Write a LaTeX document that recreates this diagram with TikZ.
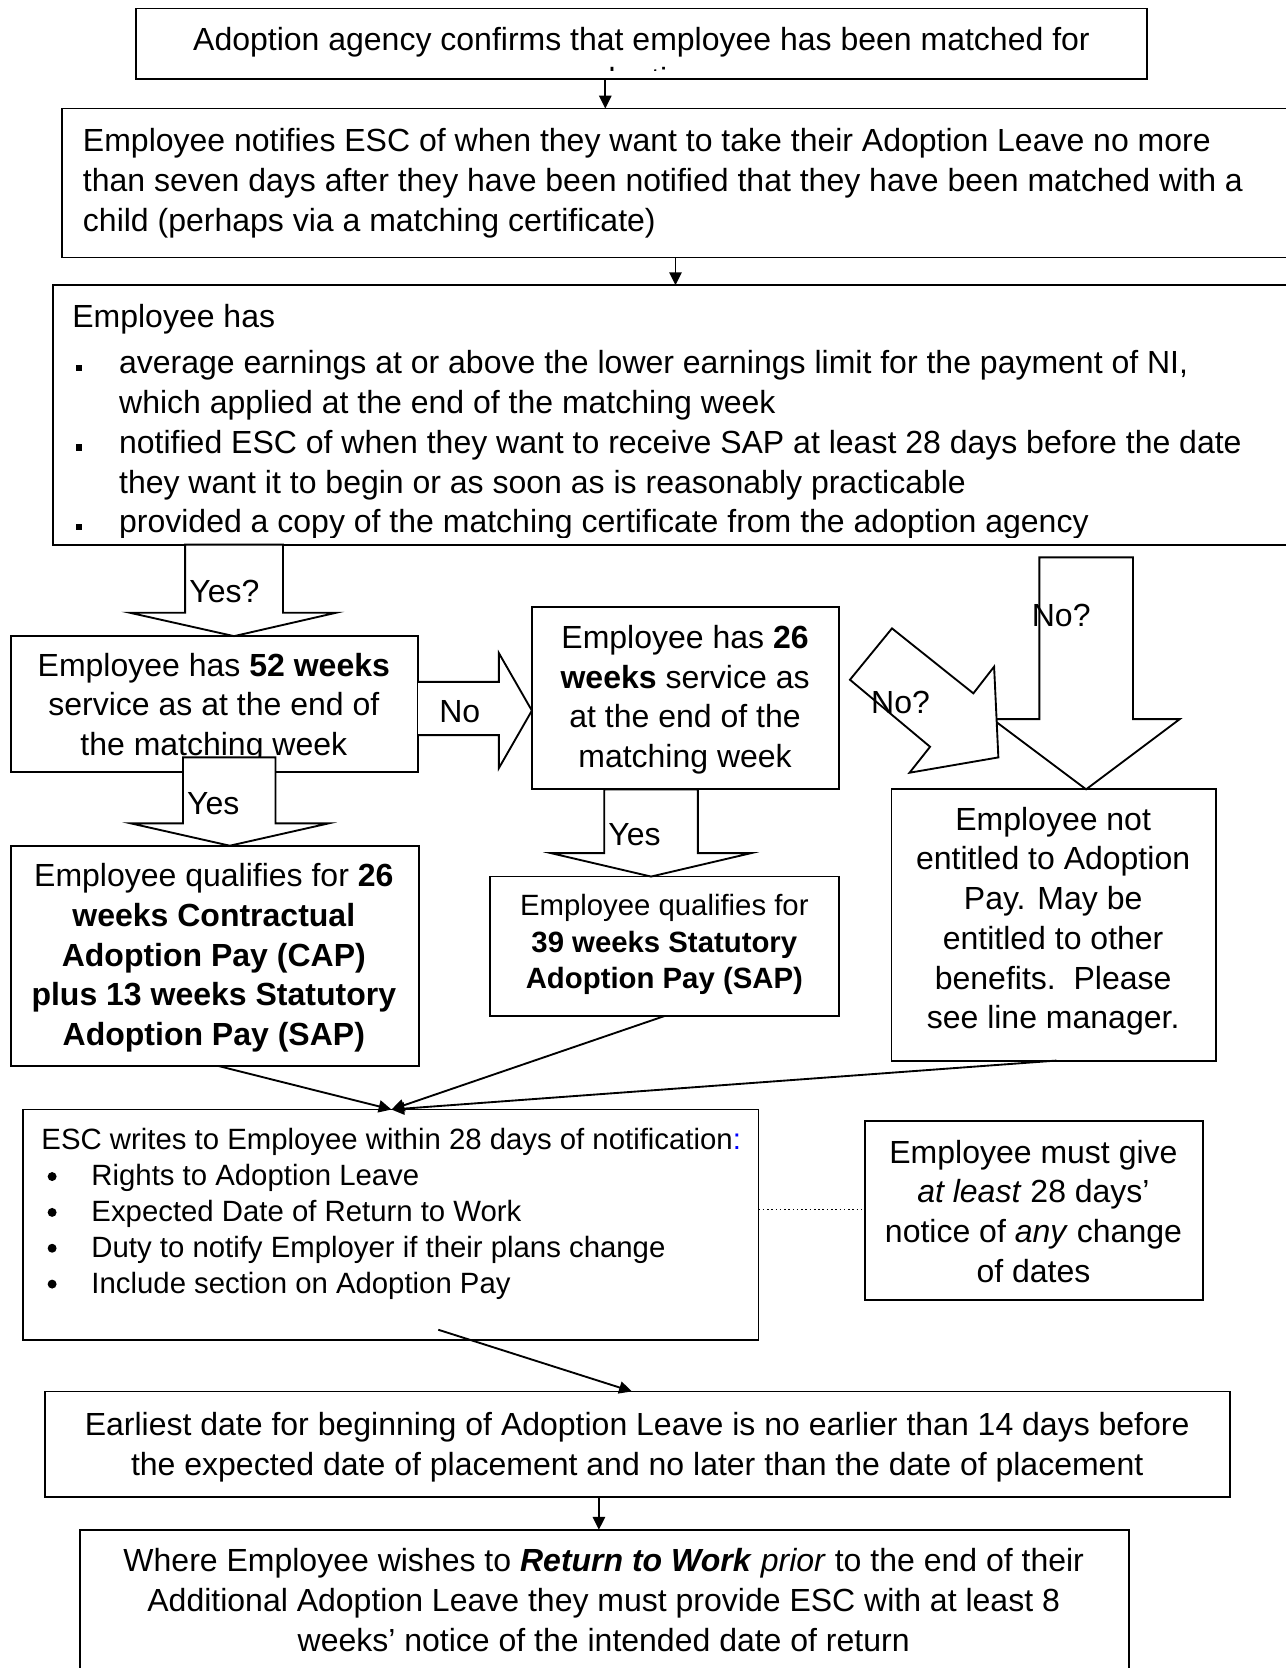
\documentclass[tikz,border=0pt]{standalone}
\usepackage{fontspec}
\setmainfont{Liberation Sans}
\usetikzlibrary{arrows.meta,fit}
\newcommand\tsA{\rule{0pt}{10pt}}
\newcommand\tsB{\rule{0pt}{9.2pt}}
\begin{document}
\begin{tikzpicture}[x=0.3989pt,y=-0.3989pt,
  box/.style={draw, line width=0.7pt, fill=white, inner sep=0pt, outer sep=0pt},
  tw/.style={inner sep=0pt, outer sep=0pt, font=\fontsize{12}{14.9}\selectfont},
  tc/.style={tw, align=center, anchor=north},
  tl/.style={tw, align=left, anchor=north west},
  smG/.style={font=\fontsize{11}{13.75}\selectfont},
  smI/.style={font=\fontsize{11}{13.45}\selectfont},
  blockarrow/.style={draw, line width=0.7pt, fill=white, line join=miter},
  conn/.style={line width=0.7pt, -{Triangle[length=4.8pt,width=4.6pt]}},
  dotconn/.style={line width=0.6pt, densely dotted},
]
\useasboundingbox (0,0) rectangle (1208,1568);

% ---------- boxes ----------
\node[box, fit={(128,8) (1078,74)}] (A) {};
\node[box, fit={(58,102) (1220,242)}] (B) {};
\node[box, fit={(50,268) (1220,512)}] (C) {};
\node[box, fit={(10,598) (393,726)}] (D) {};
\node[box, fit={(500,571) (789,742)}] (E) {};
\node[box, fit={(10,795) (394,1002)}] (F) {};
\node[box, fit={(461,824) (789,955)}] (G) {};
\node[box, fit={(838,742) (1143,997)}] (H) {};
\node[box, fit={(22,1043) (713,1260)}] (I) {};
\node[box, fit={(813,1054) (1131,1222)}] (J) {};
\node[box, fit={(42,1308) (1156,1407)}] (K) {};
\node[box, fit={(75,1438) (1061,1590)}] (L) {};

% ---------- texts ----------
\begin{scope}
\clip (128,8) rectangle (1078,66);
\node[tc] (tA) at (603,22.4) {\tsA Adoption agency confirms that employee has been matched for\\adoption};
\end{scope}

\node[tl] (tB) at (78,117.4) {\tsA Employee notifies ESC of when they want to take their Adoption Leave no more\\than seven days after they have been notified that they have been matched with a\\child (perhaps via a matching certificate)};

\node[tl] (tC) at (68,282.4) {\tsA Employee has};
\begin{scope}
\clip (50,268) rectangle (1220,505);
\node[tl] (tCb) at (112,326.4) {\tsA average earnings at or above the lower earnings limit for the payment of NI,\\which applied at the end of the matching week\\notified ESC of when they want to receive SAP at least 28 days before the date\\they want it to begin or as soon as is reasonably practicable\\provided a copy of the matching certificate from the adoption agency};
\end{scope}
\foreach \yy in {346,420.7,495.4}{\fill (71,\yy-3) rectangle (77,\yy+3);}

\node[tc] (tD) at (201,610.4) {\tsA Employee has \textbf{52 weeks}\\service as at the end of\\the matching week};
\node[tc] (tE) at (644,584.4) {\tsA Employee has \textbf{26}\\\textbf{weeks} service as\\at the end of the\\matching week};
\node[tc] (tF) at (201,808.4) {\tsA Employee qualifies for \textbf{26}\\\textbf{weeks Contractual}\\\textbf{Adoption Pay (CAP)}\\\textbf{plus 13 weeks Statutory}\\\textbf{Adoption Pay (SAP)}};
\node[tc, smG] (tG) at (624.5,837.6) {\tsB Employee qualifies for\\\textbf{39 weeks Statutory}\\\textbf{Adoption Pay (SAP)}};
\node[tc] (tH) at (990,755.4) {\tsA Employee not\\entitled to Adoption\\Pay. May be\\entitled to other\\benefits.~~Please\\see line manager.};

\node[tl, smI] (tI) at (39,1057.6) {\tsB ESC writes to Employee within 28 days of notification\textcolor{blue}{:}};
\node[tl, smI] (tIb) at (86,1091.6) {\tsB Rights to Adoption Leave\\Expected Date of Return to Work\\Duty to notify Employer if their plans change\\Include section on Adoption Pay};
\foreach \yy in {1106,1139.7,1173.4,1207.1}{\fill (49,\yy) circle (4.2);}

\node[tc] (tJ) at (971.5,1068.4) {\tsA Employee must give\\\textit{at least} 28 days’\\notice of \textit{any} change\\of dates};
\node[tc] (tK) at (599,1324.4) {\tsA Earliest date for beginning of Adoption Leave is no earlier than 14 days before\\the expected date of placement and no later than the date of placement};
\node[tc] (tL) at (567.5,1452.4) {\tsA Where Employee wishes to \textbf{\textit{Return to Work}} \textit{prior} to the end of their\\Additional Adoption Leave they must provide ESC with at least 8\\weeks’ notice of the intended date of return};

% ---------- connectors ----------
\coordinate (abx) at (569,0);
\coordinate (bcx) at (635,0);
\coordinate (klx) at (563,0);
\coordinate (fx) at (205,0);
\coordinate (gx) at (625,0);
\coordinate (hx) at (993,0);
\coordinate (kx) at (594,0);
\coordinate (meetI) at (368,1043);
\coordinate (iStart) at (412,1250);
\coordinate (dotY) at (0,1137);

\draw[conn] (A.south -| abx) -- (B.north -| abx);
\draw[conn] (B.south -| bcx) -- (C.north -| bcx);
\draw[conn] (F.south -| fx) -- (meetI);
\draw[conn] (G.south -| gx) -- (meetI);
\draw[conn] (H.south -| hx) -- (meetI);
\draw[conn] (iStart) -- (K.north -| kx);
\draw[conn] (K.south -| klx) -- (L.north -| klx);
\draw[dotconn] (I.east |- dotY) -- (J.west |- dotY);

% ---------- block arrows ----------
\draw[blockarrow] (174,512) -- (174,576) -- (122,576) -- (220,598) -- (316,576) -- (266,576) -- (266,512) -- cycle;
\draw[blockarrow] (393,641) -- (469,641) -- (469,614) -- (500,668) -- (469,722) -- (469,691) -- (393,691);
\draw[blockarrow] (172,712) -- (172,774) -- (123,774) -- (216,795) -- (309,774) -- (259,774) -- (259,712) -- cycle;
\draw[blockarrow] (568,742) -- (568,802) -- (518,802) -- (612,824) -- (706,802) -- (656,802) -- (656,742) -- cycle;
\draw[blockarrow] (977,524) -- (977,676) -- (933,676) -- (1021,742) -- (1109,676) -- (1065,676) -- (1065,524) -- cycle;
\draw[blockarrow] (799,639) -- (838.5,590.7) -- (915,651.8) -- (934.5,626.7) -- (938.5,712) -- (855,726.4) -- (874.3,702) -- cycle;

% ---------- arrow labels ----------
\node[tl] (lYesQ) at (178,541.4) {\tsA Yes?};
\node[tl] (lNo) at (413,654.4) {\tsA No};
\node[tl] (lYes1) at (176,740.4) {\tsA Yes};
\node[tl] (lYes2) at (572,769.4) {\tsA Yes};
\node[tl] (lNoQ1) at (970,563.4) {\tsA No?};
\node[tl] (lNoQ2) at (819,645.4) {\tsA No?};
\end{tikzpicture}
\end{document}
